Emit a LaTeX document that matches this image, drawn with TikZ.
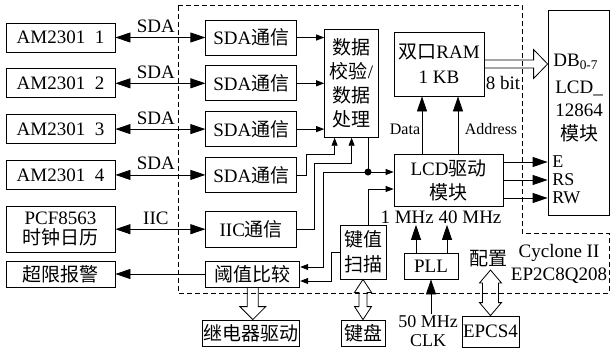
\documentclass[tikz,border=0pt]{standalone}
\usepackage{fontspec}
\setmainfont{Liberation Serif}
\newfontfamily\cjk{Noto Sans CJK SC}
\newcommand\zh[1]{{\cjk #1}}
\usetikzlibrary{positioning,calc,arrows.meta}

\begin{document}
\begin{tikzpicture}
    [x=1pt, y=-1pt, node distance=16pt, line width=0.8pt,
      font=\fontsize{19}{24}\selectfont,
      box/.style={draw, align=center, inner sep=1pt},
      sensor/.style={box, minimum width=109pt, minimum height=29pt},
      link/.style={box, minimum width=91pt, minimum height=35pt},
      lbl/.style={inner sep=1pt, align=center},
      pin/.style={inner sep=0pt, anchor=west, font=\fontsize{18}{18}\selectfont},
      big/.style={-{Triangle[length=15pt,width=10pt]}},
      bigboth/.style={{Triangle[length=15pt,width=10pt]}-{Triangle[length=15pt,width=10pt]}},
      sm/.style={-{Triangle[length=8pt,width=6pt]}},
      hollow/.style={draw, line join=miter}]

    \useasboundingbox (0,0) rectangle (610,349);

    % FPGA boundary
    \draw[dash pattern=on 5pt off 3pt]
      (178,5) -- (522,5) -- (522,233) -- (609,233) -- (609,293) -- (178,293) -- cycle;

    % left column
    \node (am1) [sensor] at (60.5,37.5) {AM2301\enspace 1};
    \node (am2) [sensor, below=of am1] {AM2301\enspace 2};
    \node (am3) [sensor, below=of am2] {AM2301\enspace 3};
    \node (am4) [sensor, below=of am3] {AM2301\enspace 4};
    \node (pcf) [box, minimum width=109pt, minimum height=46pt, below=of am4,
      font=\fontsize{19}{20}\selectfont]
    {PCF8563\\\zh{时钟日历}};
    \node (alarm) [box, minimum width=109pt, minimum height=26pt, below=8pt of pcf]
    {\zh{超限报警}};

    % interface blocks
    \node (sda1) [link, right=90pt of am1] {SDA\zh{通信}};
    \node (sda2) [link, right=90pt of am2] {SDA\zh{通信}};
    \node (sda3) [link, right=90pt of am3] {SDA\zh{通信}};
    \node (sda4) [link, right=90pt of am4] {SDA\zh{通信}};
    \node (iic) [link, minimum height=36pt, right=90pt of pcf] {IIC\zh{通信}};
    \node (cmp) [box, minimum width=94pt, minimum height=26pt, right=90pt of alarm]
    {\zh{阈值比较}};
    \node (proc) [box, minimum width=54pt, minimum height=108pt, right=27pt of sda2]
    {\zh{数据}\\\zh{校验}/\\\zh{数据}\\\zh{处理}};

    % display side
    \node (ram) [box, minimum width=90pt, minimum height=64pt,
      font=\fontsize{19}{25}\selectfont] at (439,64)
    {\zh{双口}RAM\\1 KB};
    \node (drv) [box, minimum width=109pt, minimum height=52pt] at (448.5,180)
    {LCD\zh{驱动}\\\zh{模块}};
    \node (lcd) [box, minimum width=61pt, minimum height=205pt] at (578.5,112.5) {};
    \node (db) [lbl, anchor=west] at (552,62) {DB\textsubscript{0-7}};
    \node (lcdname) [lbl, font=\fontsize{19}{23.5}\selectfont] at (579,111)
    {LCD\_\\12864\\\zh{模块}};
    \node (pinE) [pin] at (552,162) {E};
    \node (pinRS) [pin] at (552,180) {RS};
    \node (pinRW) [pin] at (552,198) {RW};

    % lower blocks
    \node (scan) [box, minimum width=46pt, minimum height=54pt,
      font=\fontsize{19}{25}\selectfont] at (363,252)
    {\zh{键值}\\\zh{扫描}};
    \node (kbd) [box, minimum width=44pt, minimum height=26pt] at (363,333) {\zh{键盘}};
    \node (relay) [box, minimum width=97pt, minimum height=26pt] at (250.5,333)
    {\zh{继电器驱动}};
    \node (pll) [box, minimum width=54pt, minimum height=26pt] at (431,266) {PLL};
    \node (epcs) [box, minimum width=57pt, minimum height=31pt] at (490.5,331.5) {EPCS4};

    % labels
    \node (freq) [lbl] at (441,217) {1 MHz 40 MHz};
    \node (clk) [lbl, font=\fontsize{18}{18.5}\selectfont] at (428,331) {50 MHz\\CLK};
    \node (cfg) [lbl] at (488,259) {\zh{配置}};
    \node (chip) [lbl, font=\fontsize{19}{23}\selectfont] at (559,263.5)
    {Cyclone II\\EP2C8Q208};
    \node (datalbl) [lbl, font=\fontsize{16}{18}\selectfont] at (405,129) {Data};
    \node (addrlbl) [lbl, font=\fontsize{16}{18}\selectfont] at (491,129) {Address};
    \node (bits) [lbl] at (503,83) {8 bit};
    \coordinate (dot) at (368,172);
    \coordinate (cfgtip) at (490.5,270);

    % sensor buses
    \draw[bigboth] (am1) -- node[pos=.45, above=1pt] {SDA} (sda1);
    \draw[bigboth] (am2) -- node[pos=.45, above=1pt] {SDA} (sda2);
    \draw[bigboth] (am3) -- node[pos=.45, above=1pt] {SDA} (sda3);
    \draw[bigboth] (am4) -- node[pos=.45, above=1pt] {SDA} (sda4);
    \draw[bigboth] (pcf) -- node[pos=.45, above=1pt] {IIC} (iic);
    \draw[big] (cmp) -- (alarm);

    % into the check block
    \draw[sm] (sda1) -- (sda1 -| proc.west);
    \draw[sm] (sda2) -- (sda2 -| proc.west);
    \draw[sm] (sda3) -- (sda3 -| proc.west);
    \draw[sm] (sda4.east) -- ++(9,0) |- ([xshift=-17pt,yshift=-17pt]proc.south)
      -- ([xshift=-17pt]proc.south);
    \draw[sm] (iic.east) -- ++(17,0) |- ([yshift=-26pt]proc.south) -- (proc.south);

    % out of the check block
    \draw[sm] (dot |- proc.south) -- (dot) -- (dot -| drv.west);
    \fill (dot) circle (3.5);
    \draw[sm] (dot) -- ++(-45,0) |- ([yshift=7pt]cmp.east);
    \draw[sm] (scan.west) -- ++(-8,0) |- ([yshift=-7pt]cmp.east);
    \draw[sm] (dot |- scan.north) |- ([yshift=-9pt]drv.west);

    % display
    \draw[big] ($(ram.south |- drv.north)+(-17,0)$) -- ($(ram.south)+(-17,0)$);
    \draw[big] ($(ram.south |- drv.north)+(19,0)$) -- ($(ram.south)+(19,0)$);
    \draw[big] (drv.east |- pinE) -- (lcd.west |- pinE);
    \draw[big] (drv.east |- pinRS) -- (lcd.west |- pinRS);
    \draw[big] (drv.east |- pinRW) -- (lcd.west |- pinRW);

    % clocks
    \draw[big] ($(pll.north)+(-15,0)$) -- ($(pll.north |- freq.south)+(-15,0)$);
    \draw[big] ($(pll.north)+(16,0)$) -- ($(pll.north |- freq.south)+(16,0)$);
    \draw[big] (pll.south |- clk.north) -- (pll.south);

    % hollow arrows
    \draw[hollow] ($(ram.east)+(0,-4)$) -- ($(ram.east -| lcd.west)+(-14,-4)$)
      -- ++(0,-10.5) -- (ram.east -| lcd.west) -- ++(-14,14.5) -- ++(0,-10.5)
      -- ($(ram.east)+(0,4)$);
    \draw[hollow] ($(cmp.south)+(-5.5,0)$) -- ($(cmp.south |- relay.north)+(-5.5,-13)$)
      -- ++(-7.5,0) -- (cmp.south |- relay.north) -- ++(13,-13) -- ++(-7.5,0)
      -- ($(cmp.south)+(5.5,0)$);
    \draw[hollow] (scan.south) -- ++(8.5,13) -- ++(-4.5,0) -- ($(kbd.north)+(4,-13)$)
      -- ++(4.5,0) -- (kbd.north) -- ++(-8.5,-13) -- ++(4.5,0)
      -- ($(scan.south)+(-4,13)$) -- ++(-4.5,0) -- cycle;
    \draw[hollow] (cfgtip) -- ++(11,13) -- ++(-3,0) -- ($(epcs.north)+(8,-13)$)
      -- ++(3,0) -- (epcs.north) -- ++(-11,-13) -- ++(3,0)
      -- ($(cfgtip)+(-8,13)$) -- ++(-3,0) -- cycle;
  \end{tikzpicture}
\end{document}
